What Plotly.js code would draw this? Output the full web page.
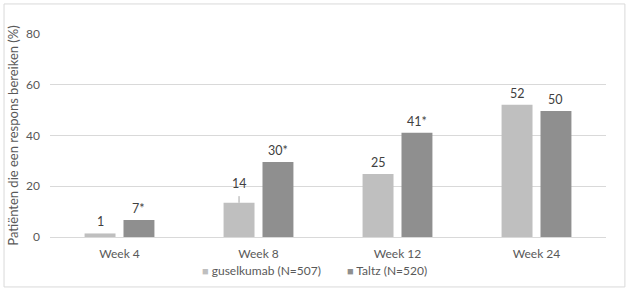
<!DOCTYPE html>
<html>
<head>
<meta charset="utf-8">
<script src="https://cdn.plot.ly/plotly-3.0.1.min.js"></script>
<style>html,body{margin:0;padding:0;background:#fff;}#chart{width:630px;height:291px;}</style>
</head>
<body>
<div id="chart"></div>
<script>
const categories = ["Week 4", "Week 8", "Week 12", "Week 24"];
const guselkumabValues = [1.4, 13.5, 24.8, 52.1];
const taltzValues = [6.7, 29.6, 41.1, 49.7];
const guselkumabLabels = ["1", "14", "25", "52"];
const taltzLabels = ["7*", "30*", "41*", "50"];
const guselkumabLeader = [0, 2.6, 0, 0];
const taltzLeader = [0, 0, 0, 0];
const seriesNames = ["guselkumab (N=507)", "Taltz (N=520)"];
const yTicks = [0, 20, 40, 60, 80];

const FONT = "Lato, 'Open Sans', sans-serif";
const TXT = "#595959";
const COLORS = ["#bfbfbf", "#8f8f8f"];
const bargap = 0.44;
const off = (1 - bargap) / 4;

const traces = [
  {type: "bar", name: seriesNames[0], x: categories, y: guselkumabValues,
   marker: {color: COLORS[0]},
   error_y: {type: "data", array: guselkumabLeader, arrayminus: guselkumabLeader.map(() => 0), symmetric: false, width: 0, thickness: 1, color: "#a6a6a6"},
   hoverinfo: "skip", showlegend: false},
  {type: "bar", name: seriesNames[1], x: categories, y: taltzValues,
   marker: {color: COLORS[1]}, hoverinfo: "skip", showlegend: false}
];

const annotations = [];
categories.forEach((c, i) => {
  annotations.push({x: i - off, y: guselkumabValues[i] + guselkumabLeader[i], xref: "x", yref: "y",
    text: guselkumabLabels[i], showarrow: false, yanchor: "bottom", yshift: 2 + (guselkumabLeader[i] ? 1 : 0),
    font: {family: FONT, size: 12.5, color: "#404040"}});
  annotations.push({x: i + off, y: taltzValues[i] + taltzLeader[i], xref: "x", yref: "y",
    text: taltzLabels[i], showarrow: false, yanchor: "bottom", yshift: 2,
    font: {family: FONT, size: 12.5, color: "#404040"}});
});
// legend entries (square swatch + name)
const legendX = [200, 345];
seriesNames.forEach((n, k) => {
  annotations.push({xref: "paper", yref: "paper", x: (legendX[k] - 50) / 556, y: -(270 - 237) / 203,
    xanchor: "left", yanchor: "middle", showarrow: false, align: "left",
    text: '<span style="color:' + COLORS[k] + ';font-size:11px">■</span> ' + n,
    font: {family: FONT, size: 12, color: TXT}});
});

const layout = {
  width: 630, height: 291,
  margin: {l: 50, r: 24, t: 34, b: 54, autoexpand: false},
  paper_bgcolor: "#ffffff", plot_bgcolor: "#ffffff",
  font: {family: FONT, size: 12, color: TXT},
  barmode: "group", bargap: bargap, bargroupgap: 0.205,
  showlegend: false,
  xaxis: {type: "category", showgrid: false, zeroline: false, showline: false,
    ticks: "", ticklabelstandoff: 8, tickfont: {family: FONT, size: 12, color: TXT}, fixedrange: true},
  yaxis: {range: [0, 80], tickvals: yTicks, ticktext: yTicks.map(String),
    showgrid: true, gridcolor: "#d9d9d9", gridwidth: 1, zeroline: true, zerolinecolor: "#d9d9d9", zerolinewidth: 1,
    showline: false, ticks: "", ticklabelstandoff: 9, tickfont: {family: FONT, size: 12, color: TXT},
    title: {text: "Patiënten die een respons bereiken (%)", font: {family: FONT, size: 13, color: TXT}, standoff: 4},
    fixedrange: true},
  shapes: [{type: "rect", xref: "paper", yref: "paper", x0: -0.0827, x1: 1.034, y0: -0.246, y1: 1.148,
    line: {color: "#d9d9d9", width: 1}, fillcolor: "rgba(0,0,0,0)", layer: "below"}],
  annotations: annotations
};

Plotly.newPlot("chart", traces, layout, {displayModeBar: false, staticPlot: true});
</script>
</body>
</html>
